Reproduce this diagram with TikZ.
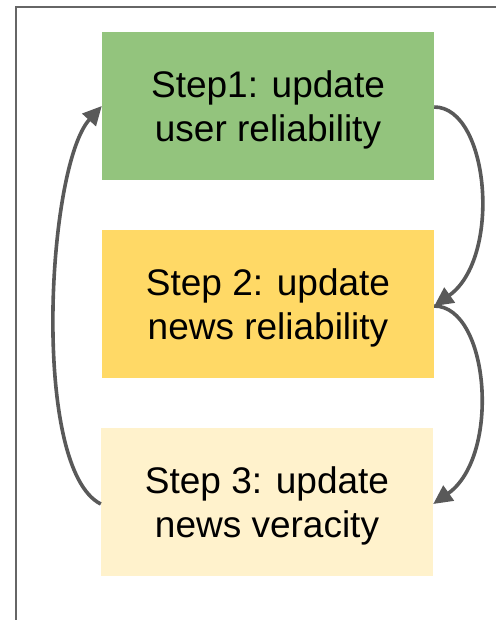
\documentclass[tikz,border=0pt]{standalone}
\usepackage{fontspec}
\setmainfont{Liberation Sans}
\usetikzlibrary{arrows.meta}
\definecolor{boxA}{HTML}{93C47D}
\definecolor{boxB}{HTML}{FFD966}
\definecolor{boxC}{HTML}{FFF2CC}
\definecolor{arr}{HTML}{595959}
\definecolor{frm}{HTML}{666666}
\tikzset{
  stepbox/.style={minimum width=332pt, minimum height=148pt, inner sep=0pt, align=center,
    font=\fontsize{37pt}{44pt}\selectfont, text=black},
  lbl/.style={align=center, inner sep=0pt, font=\fontsize{37pt}{44pt}\selectfont, text=black},
  conn/.style={draw=arr, line width=3.6pt, -{Triangle[length=19pt,width=18pt]}}
}
\begin{document}
\begin{tikzpicture}[x=1pt,y=-1pt]
\useasboundingbox (0,0) rectangle (496,620);
\fill[white] (0,0) rectangle (496,620);
\draw[frm, line width=2pt] (16,620) -- (16,7.5) -- (496,7.5);
\node[stepbox, fill=boxA] (s1) at (268,106) {};
\node[stepbox, fill=boxB] (s2) at (268,304) {};
\node[stepbox, fill=boxC] (s3) at (267,502) {};
\node[lbl] (t1) at (268,110) {Step1: update\\user reliability};
\node[lbl] (t2) at (268,308) {Step 2: update\\news reliability};
\node[lbl] (t3) at (267,506) {Step 3: update\\news veracity};
\draw[conn] ([yshift=-1pt]s1.east) .. controls +(55,0) and +(68,-48) .. ([yshift=-2pt]s2.east);
\draw[conn] ([yshift=-2pt]s2.east) .. controls +(55,0) and +(68,-48) .. ([yshift=-2pt]s3.east);
\draw[conn] ([yshift=-2pt]s3.west) .. controls +(-70,-35) and +(-55,60) .. (s1.west);
\end{tikzpicture}
\end{document}
